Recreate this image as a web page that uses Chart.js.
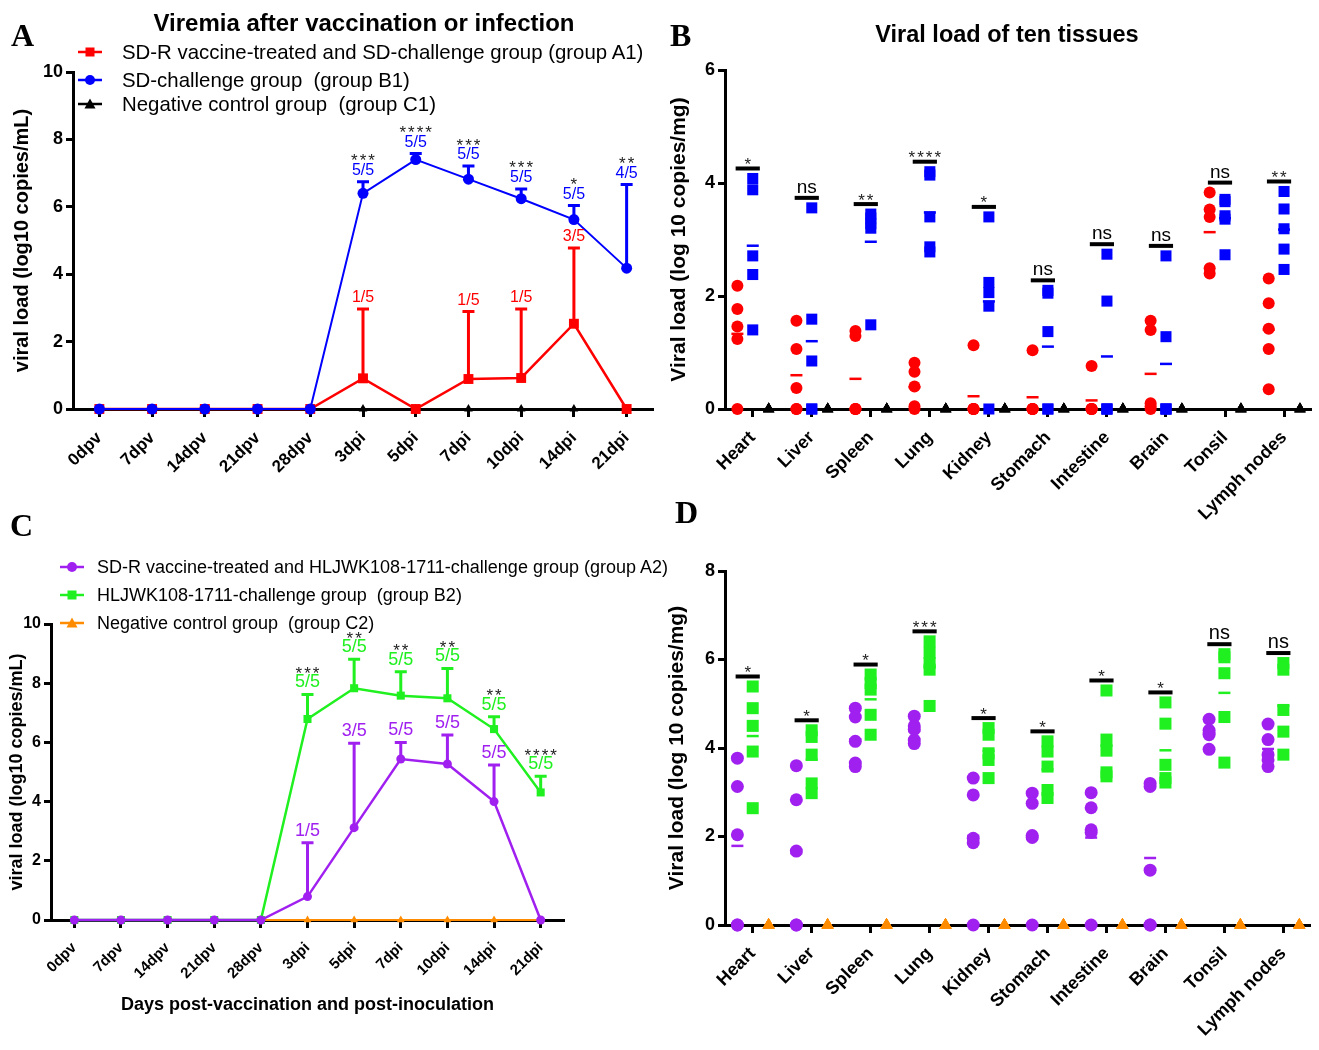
<!DOCTYPE html>
<html lang="en">
<head>
<meta charset="UTF-8">
<title>Viremia and tissue viral load</title>
<script src="https://cdn.jsdelivr.net/npm/chart.js@4.4.1/dist/chart.umd.min.js"></script>
<style>
  body { margin: 0; background: #fff; }
  #page { position: relative; width: 1319px; height: 1050px; overflow: hidden; font-family: "Liberation Sans", Arial, sans-serif; }
  canvas { position: absolute; }
  .txt { position: absolute; white-space: pre; line-height: 1; color: #000; }
  .letter { font-family: "Liberation Serif", "Times New Roman", serif; font-weight: bold; font-size: 32px; }
  .title { font-weight: bold; text-align: center; width: 600px; }
</style>
</head>
<body>
<div id="page">
  <canvas id="chartA" width="660" height="520" style="left:0;top:0"></canvas>
  <canvas id="chartB" width="659" height="545" style="left:660px;top:0"></canvas>
  <canvas id="chartC" width="660" height="530" style="left:0;top:520px"></canvas>
  <canvas id="chartD" width="659" height="505" style="left:660px;top:545px"></canvas>

  <div class="txt letter" style="left:11px;top:19px">A</div>
  <div class="txt letter" style="left:670px;top:19px">B</div>
  <div class="txt letter" style="left:10px;top:509px">C</div>
  <div class="txt letter" style="left:675px;top:496px">D</div>
  <div class="txt title" style="left:64px;top:11px;font-size:24px">Viremia after vaccination or infection</div>
  <div class="txt title" style="left:707px;top:23px;font-size:23.5px">Viral load of ten tissues</div>
</div>
<script>
const FONT = '"Liberation Sans", Arial, Helvetica, sans-serif';
Chart.defaults.font.family = FONT;
Chart.defaults.color = '#000';

const RED = '#ff0000', BLUE = '#0000ff', BLACK = '#000000';
const PURPLE = '#a020f0', GREEN = '#20f020', ORANGE = '#ff8c00';

// ---- time course (panels A and C) ----
const timeLabels = ['0dpv', '7dpv', '14dpv', '21dpv', '28dpv', '3dpi', '5dpi', '7dpi', '10dpi', '14dpi', '21dpi'];

const a1Mean = [0, 0, 0, 0, 0, 0.91, 0, 0.89, 0.92, 2.53, 0];
const a1Sd = [0, 0, 0, 0, 0, 2.06, 0, 2.0, 2.05, 2.25, 0];
const a1Pos = ['', '', '', '', '', '1/5', '', '1/5', '1/5', '3/5', ''];
const b1Mean = [0, 0, 0, 0, 0, 6.4, 7.4, 6.82, 6.24, 5.62, 4.18];
const b1Sd = [0, 0, 0, 0, 0, 0.34, 0.18, 0.39, 0.29, 0.42, 2.48];
const b1Pos = ['', '', '', '', '', '5/5', '5/5', '5/5', '5/5', '5/5', '4/5'];
const c1Mean = [0, 0, 0, 0, 0, 0, 0, 0, 0, 0, 0];
const aStars = ['', '', '', '', '', '***', '****', '***', '***', '*', '**'];

const a2Mean = [0, 0, 0, 0, 0, 0.79, 3.12, 5.44, 5.27, 4.0, 0];
const a2Sd = [0, 0, 0, 0, 0, 1.82, 2.85, 0.56, 0.98, 1.24, 0];
const a2Pos = ['', '', '', '', '', '1/5', '3/5', '5/5', '5/5', '5/5', ''];
const b2Mean = [0, 0, 0, 0, 0, 6.79, 7.83, 7.58, 7.49, 6.45, 4.31];
const b2Sd = [0, 0, 0, 0, 0, 0.83, 0.98, 0.81, 1.01, 0.42, 0.55];
const b2Pos = ['', '', '', '', '', '5/5', '5/5', '5/5', '5/5', '5/5', '5/5'];
const c2Mean = [0, 0, 0, 0, 0, 0, 0, 0, 0, 0, 0];
const cStars = ['', '', '', '', '', '***', '**', '**', '**', '**', '****'];

// ---- tissues (panels B and D), five pigs per group ----
const tissues = ['Heart', 'Liver', 'Spleen', 'Lung', 'Kidney', 'Stomach', 'Intestine', 'Brain', 'Tonsil', 'Lymph nodes'];

const tisA1 = [
  [2.18, 1.77, 1.46, 1.24, 0],
  [1.56, 1.06, 0.37, 0, 0],
  [1.38, 1.29, 0, 0, 0],
  [0.82, 0.66, 0.4, 0.05, 0],
  [1.13, 0, 0, 0, 0],
  [1.04, 0, 0, 0, 0],
  [0.76, 0, 0, 0, 0],
  [1.56, 1.4, 0.1, 0.05, 0],
  [3.83, 3.53, 3.4, 2.49, 2.4],
  [2.31, 1.87, 1.42, 1.06, 0.35]
];
const tisB1 = [
  [4.08, 3.88, 2.71, 2.38, 1.4],
  [3.56, 1.59, 0.85, 0, 0],
  [3.45, 3.38, 3.28, 3.2, 1.49],
  [4.2, 4.14, 3.4, 2.87, 2.78],
  [3.4, 2.24, 2.06, 1.82, 0],
  [2.1, 2.05, 1.37, 0, 0],
  [2.74, 1.91, 0, 0, 0],
  [2.71, 1.28, 0, 0, 0],
  [3.71, 3.67, 3.42, 3.36, 2.73],
  [3.85, 3.54, 3.19, 2.83, 2.47]
];
const tisC1 = [
  [0, 0, 0, 0, 0], [0, 0, 0, 0, 0], [0, 0, 0, 0, 0], [0, 0, 0, 0, 0], [0, 0, 0, 0, 0],
  [0, 0, 0, 0, 0], [0, 0, 0, 0, 0], [0, 0, 0, 0, 0], [0, 0, 0, 0, 0], [0, 0, 0, 0, 0]
];
const sigB = ['*', 'ns', '**', '****', '*', 'ns', 'ns', 'ns', 'ns', '**'];

const tisA2 = [
  [3.77, 3.13, 2.04, 0, 0],
  [3.6, 2.83, 1.67, 0, 0],
  [4.9, 4.7, 4.15, 3.66, 3.58],
  [4.72, 4.5, 4.42, 4.18, 4.1],
  [3.32, 2.94, 1.96, 1.86, 0],
  [2.98, 2.75, 2.02, 1.98, 0],
  [2.99, 2.65, 2.15, 2.09, 0],
  [3.2, 3.13, 1.24, 0, 0],
  [4.65, 4.4, 4.34, 4.3, 3.97],
  [4.54, 4.19, 3.85, 3.73, 3.58]
];
const tisB2 = [
  [5.39, 4.9, 4.5, 3.92, 2.64],
  [4.4, 4.25, 3.85, 3.2, 2.98],
  [5.66, 5.47, 5.32, 4.75, 4.3],
  [6.41, 6.15, 5.92, 5.77, 4.95],
  [4.45, 4.3, 3.88, 3.73, 3.32],
  [4.15, 3.92, 3.58, 3.05, 2.87],
  [5.3, 4.19, 3.94, 3.45, 3.36],
  [5.03, 4.55, 3.62, 3.32, 3.22],
  [6.12, 6.05, 5.69, 4.7, 3.67],
  [5.92, 5.77, 4.86, 4.37, 3.85]
];
const tisC2 = [
  [0, 0, 0, 0, 0], [0, 0, 0, 0, 0], [0, 0, 0, 0, 0], [0, 0, 0, 0, 0], [0, 0, 0, 0, 0],
  [0, 0, 0, 0, 0], [0, 0, 0, 0, 0], [0, 0, 0, 0, 0], [0, 0, 0, 0, 0], [0, 0, 0, 0, 0]
];
const sigD = ['*', '*', '*', '***', '*', '*', '*', '*', 'ns', 'ns'];

const namesA = ['SD-R vaccine-treated and SD-challenge group (group A1)', 'SD-challenge group  (group B1)', 'Negative control group  (group C1)'];
const namesC = ['SD-R vaccine-treated and HLJWK108-1711-challenge group (group A2)', 'HLJWK108-1711-challenge group  (group B2)', 'Negative control group  (group C2)'];

// ---------- helpers ----------
function drawStars(ctx, text, x, yc) {
  ctx.font = '17px ' + FONT;
  ctx.letterSpacing = '2px';
  ctx.textAlign = 'center';
  ctx.textBaseline = 'alphabetic';
  ctx.fillStyle = '#222';
  ctx.fillText(text, x + 1, yc + 9.5);
  ctx.letterSpacing = '0px';
}

function marksPlugin(extra) {
  return {
    id: 'marks',
    beforeDatasetsDraw(chart) {
      const ctx = chart.ctx, xs = chart.scales.x, ys = chart.scales.y;
      ctx.save();
      chart.data.datasets.forEach((ds, di) => {
        if (!ds.errUp) return;
        const meta = chart.getDatasetMeta(di);
        ctx.strokeStyle = ds.borderColor;
        ctx.lineWidth = 3;
        ds.errUp.forEach((e, i) => {
          if (!e) return;
          const p = meta.data[i];
          const top = ys.getPixelForValue(ds.data[i] + e);
          ctx.beginPath();
          ctx.moveTo(p.x, p.y); ctx.lineTo(p.x, top);
          ctx.moveTo(p.x - 6, top); ctx.lineTo(p.x + 6, top);
          ctx.stroke();
        });
      });
      (extra.groups || []).forEach(g => {
        ctx.strokeStyle = g.color;
        ctx.lineWidth = 2.5;
        g.vals.forEach((vals, i) => {
          const m = vals.reduce((a, b) => a + b, 0) / vals.length;
          if (!m) return;
          const x = xs.getPixelForValue(i + g.dx), y = ys.getPixelForValue(m);
          ctx.beginPath(); ctx.moveTo(x - 6, y); ctx.lineTo(x + 6, y); ctx.stroke();
        });
      });
      ctx.restore();
    },
    afterDatasetsDraw(chart) {
      const ctx = chart.ctx, xs = chart.scales.x, ys = chart.scales.y;
      ctx.save();
      // positives per group above the error bars
      chart.data.datasets.forEach((ds, di) => {
        if (!ds.counts) return;
        const meta = chart.getDatasetMeta(di);
        ctx.fillStyle = ds.borderColor;
        ctx.font = extra.countSize + 'px ' + FONT;
        ctx.textAlign = 'center';
        ctx.textBaseline = 'middle';
        ds.counts.forEach((t, i) => {
          if (!t) return;
          const top = ys.getPixelForValue(ds.data[i] + (ds.errUp[i] || 0));
          ctx.fillText(t, meta.data[i].x, top - extra.countGap);
        });
      });
      if (extra.stars) {
        const ds = chart.data.datasets[extra.starSet];
        const meta = chart.getDatasetMeta(extra.starSet);
        extra.stars.forEach((t, i) => {
          if (!t) return;
          const top = ys.getPixelForValue(ds.data[i] + ds.errUp[i]);
          drawStars(ctx, t, meta.data[i].x, top - extra.starGap);
        });
      }
      // significance bars on the tissue plots
      if (extra.sig) {
        const [g0, g1] = extra.groups;
        extra.sig.forEach((t, i) => {
          const hi = Math.max(...g0.vals[i], ...g1.vals[i]);
          const y = ys.getPixelForValue(hi) - 10;
          const x0 = xs.getPixelForValue(i - 0.29), x1 = xs.getPixelForValue(i + 0.12);
          ctx.strokeStyle = '#000';
          ctx.lineWidth = 4;
          ctx.beginPath(); ctx.moveTo(x0, y); ctx.lineTo(x1, y); ctx.stroke();
          const xc = (x0 + x1) / 2;
          if (t === 'ns') {
            ctx.font = extra.nsSize + 'px ' + FONT;
            ctx.fillStyle = '#000';
            ctx.textAlign = 'center';
            ctx.textBaseline = 'alphabetic';
            ctx.fillText(t, xc, y - 5);
          } else {
            drawStars(ctx, t, xc, y - 8);
          }
        });
      }
      ctx.restore();
    }
  };
}

function yAxis(max, tickSize, title, titleSize, titlePad, width) {
  return {
    min: 0, max: max,
    ticks: { stepSize: 2, color: '#000', font: { size: tickSize, weight: 'bold' }, padding: 3 },
    grid: { drawOnChartArea: false, tickLength: 7, tickWidth: 3, tickColor: '#000' },
    border: { color: '#000', width: 3 },
    title: { display: true, text: title, color: '#000', font: { size: titleSize, weight: 'bold' }, padding: { top: titlePad, bottom: 0 } },
    afterFit: s => { s.width = width; }
  };
}

function timeAxis(labelSize, pad, height, title) {
  return {
    type: 'category', offset: true,
    ticks: { color: '#000', autoSkip: false, minRotation: 45, maxRotation: 45, font: { size: labelSize, weight: 'bold' }, padding: pad },
    grid: { drawOnChartArea: false, offset: false, tickLength: 8, tickWidth: 3, tickColor: '#000' },
    border: { color: '#000', width: 3 },
    title: title ? { display: true, text: title, color: '#000', font: { size: 18, weight: 'bold' }, padding: { top: 0, bottom: 34 } } : { display: false },
    afterFit: s => { s.height = height; }
  };
}

function tissueAxis(height) {
  return {
    type: 'linear', min: -0.47, max: 9.46,
    afterBuildTicks: s => { s.ticks = tissues.map((_, i) => ({ value: i })); },
    ticks: { callback: v => tissues[v], color: '#000', autoSkip: false, minRotation: 45, maxRotation: 45, font: { size: 18, weight: 'bold' }, padding: 10 },
    grid: { drawOnChartArea: false, tickLength: 8, tickWidth: 3, tickColor: '#000' },
    border: { color: '#000', width: 3 },
    afterFit: s => { s.height = height; }
  };
}

function lineSet(label, data, err, counts, color, style, radius, width, order) {
  return {
    label, data, errUp: err, counts, borderColor: color, backgroundColor: color,
    borderWidth: width, pointStyle: style, pointRadius: radius, pointBorderWidth: 0,
    order, clip: false
  };
}

function dotSet(label, groups, dx, color, style, radius, order) {
  const pts = [];
  groups.forEach((vals, i) => vals.forEach(v => pts.push({ x: i + dx, y: v })));
  return {
    label, data: pts, showLine: false, pointStyle: style, pointRadius: radius,
    backgroundColor: color, borderColor: color, pointBorderWidth: 0, order, clip: false
  };
}

const common = {
  responsive: false, animation: false, events: [],
  plugins: { legend: { display: false }, tooltip: { enabled: false } }
};

// ---------- panel A ----------
new Chart(document.getElementById('chartA'), {
  type: 'line',
  data: {
    labels: timeLabels,
    datasets: [
      lineSet(namesA[1], b1Mean, b1Sd, b1Pos, BLUE, 'circle', 5.5, 2, 0),
      lineSet(namesA[0], a1Mean, a1Sd, a1Pos, RED, 'rect', 7, 2.5, 1),
      lineSet(namesA[2], c1Mean, null, null, BLACK, 'triangle', 5, 2, 2)
    ]
  },
  options: {
    ...common,
    layout: { padding: { top: 72, right: 2, left: 0, bottom: 0 } },
    scales: {
      x: timeAxis(17, 11, 111),
      y: yAxis(10, 18, 'viral load (log10 copies/mL)', 20, 10, 73)
    }
  },
  plugins: [marksPlugin({ countSize: 16, countGap: 11, stars: aStars, starSet: 0, starGap: 25 })]
});

// ---------- panel B ----------
const groupsB = [
  { vals: tisA1, dx: -0.26, color: RED },
  { vals: tisB1, dx: 0, color: BLUE }
];
new Chart(document.getElementById('chartB'), {
  type: 'scatter',
  data: {
    datasets: [
      dotSet(namesA[0], tisA1, -0.26, RED, 'circle', 6, 1),
      dotSet(namesA[1], tisB1, 0, BLUE, 'rect', 7.8, 0),
      dotSet(namesA[2], tisC1, 0.27, BLACK, 'triangle', 6.5, 2)
    ]
  },
  options: {
    ...common,
    layout: { padding: { top: 70, right: 6, left: 0, bottom: 0 } },
    scales: {
      x: tissueAxis(136),
      y: yAxis(6, 18, 'Viral load (log 10 copies/mg)', 21, 7, 65)
    }
  },
  plugins: [marksPlugin({ groups: groupsB, sig: sigB, nsSize: 19 })]
});

// ---------- panel C ----------
new Chart(document.getElementById('chartC'), {
  type: 'line',
  data: {
    labels: timeLabels,
    datasets: [
      lineSet(namesC[0], a2Mean, a2Sd, a2Pos, PURPLE, 'circle', 4.5, 2.5, 0),
      lineSet(namesC[1], b2Mean, b2Sd, b2Pos, GREEN, 'rect', 5.7, 2.5, 1),
      lineSet(namesC[2], c2Mean, null, null, ORANGE, 'triangle', 4.5, 2, 2)
    ]
  },
  options: {
    ...common,
    layout: { padding: { top: 104, right: 96, left: 0, bottom: 0 } },
    scales: {
      x: timeAxis(15, 11, 130, 'Days post-vaccination and post-inoculation'),
      y: yAxis(10, 16, 'viral load (log10 copies/mL)', 18, 6, 51)
    }
  },
  plugins: [marksPlugin({ countSize: 18, countGap: 12, stars: cStars, starSet: 1, starGap: 25 })]
});

// ---------- panel D ----------
const groupsD = [
  { vals: tisA2, dx: -0.26, color: PURPLE },
  { vals: tisB2, dx: 0, color: GREEN }
];
new Chart(document.getElementById('chartD'), {
  type: 'scatter',
  data: {
    datasets: [
      dotSet(namesC[0], tisA2, -0.26, PURPLE, 'circle', 6.5, 1),
      dotSet(namesC[1], tisB2, 0, GREEN, 'rect', 8.5, 0),
      dotSet(namesC[2], tisC2, 0.27, ORANGE, 'triangle', 7, 2)
    ]
  },
  options: {
    ...common,
    layout: { padding: { top: 26, right: 6, left: 0, bottom: 0 } },
    scales: {
      x: tissueAxis(125),
      y: yAxis(8, 18, 'Viral load (log 10 copies/mg)', 21, 5, 65)
    }
  },
  plugins: [marksPlugin({ groups: groupsD, sig: sigD, nsSize: 20 })]
});

// ---------- legends (HTML text with small drawn markers) ----------
function marker(shape, color) {
  let sym;
  if (shape === 'circle') sym = `<circle cx="12" cy="8" r="5" fill="${color}"/>`;
  else if (shape === 'rect') sym = `<rect x="7.5" y="3.5" width="9" height="9" fill="${color}"/>`;
  else sym = `<polygon points="12,2.5 17.5,12.5 6.5,12.5" fill="${color}"/>`;
  return `<svg width="24" height="16" viewBox="0 0 24 16"><line x1="0" y1="8" x2="24" y2="8" stroke="${color}" stroke-width="2.5"/>${sym}</svg>`;
}

function addLegend(items, markX, textX, rows, size) {
  const page = document.getElementById('page');
  items.forEach((it, k) => {
    const m = document.createElement('div');
    m.style.position = 'absolute';
    m.style.left = (markX - 12) + 'px';
    m.style.top = (rows[k] - 8) + 'px';
    m.style.lineHeight = '0';
    m.innerHTML = marker(it.shape, it.color);
    page.appendChild(m);
    const t = document.createElement('div');
    t.className = 'txt';
    t.style.left = textX + 'px';
    t.style.top = (rows[k] - 0.49 * size) + 'px';
    t.style.fontSize = size + 'px';
    t.textContent = it.name;
    page.appendChild(t);
  });
}

addLegend([
  { name: namesA[0], color: RED, shape: 'rect' },
  { name: namesA[1], color: BLUE, shape: 'circle' },
  { name: namesA[2], color: BLACK, shape: 'triangle' }
], 90, 122, [52, 80, 104], 20.4);

addLegend([
  { name: namesC[0], color: PURPLE, shape: 'circle' },
  { name: namesC[1], color: GREEN, shape: 'rect' },
  { name: namesC[2], color: ORANGE, shape: 'triangle' }
], 72, 97, [567, 595, 623], 18);
</script>
</body>
</html>
